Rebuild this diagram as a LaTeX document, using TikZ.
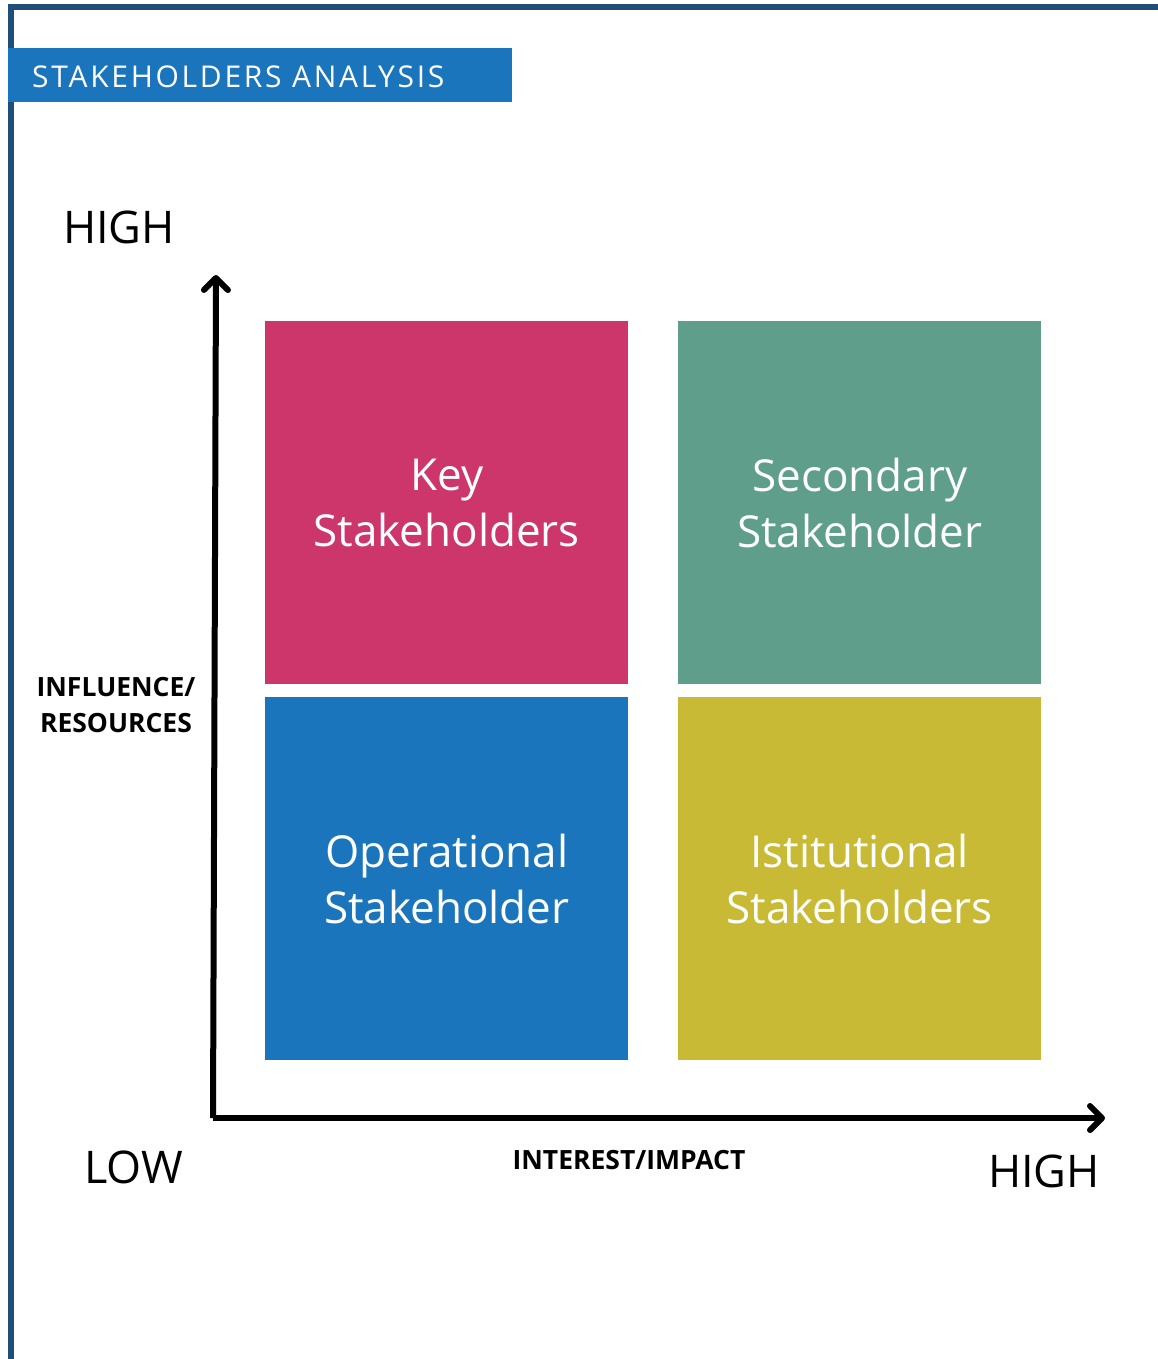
\documentclass[tikz,border=0pt]{standalone}
\usepackage{fontspec}
\setmainfont{Open Sans}
\newfontfamily\titlefont[LetterSpace=9]{Open Sans}
\usetikzlibrary{arrows.meta}
\definecolor{frame}{HTML}{1F4E79}
\definecolor{titleblue}{HTML}{1B75BC}
\definecolor{keyc}{HTML}{CC366B}
\definecolor{secc}{HTML}{5E9E8B}
\definecolor{opc}{HTML}{1B75BC}
\definecolor{insc}{HTML}{C9BA36}
\tikzset{
  quad/.style={inner sep=0pt, minimum width=363pt, minimum height=363pt, text=white, align=center,
    font=\fontsize{44}{56}\selectfont},
  axislabel/.style={font=\fontsize{45}{52}\selectfont, anchor=base west, inner sep=0pt},
  axisname/.style={font=\bfseries\fontsize{26.5}{36}\selectfont, align=center, inner sep=0pt},
  axisline/.style={line width=6pt, -{Straight Barb[round,length=12pt,width=24pt]}},
}
\begin{document}
\begin{tikzpicture}[x=1pt,y=-1pt]
\useasboundingbox (0,0) rectangle (1158,1359);
% frame
\fill[frame] (8,4) rectangle (1158,10);
\fill[frame] (8,4) rectangle (14,1359);
% title
\node[fill=titleblue, minimum width=504pt, minimum height=54pt, inner sep=0pt, anchor=north west] (title) at (8,48) {};
\node[anchor=base west, text=white, inner sep=0pt, font=\titlefont\fontsize{30}{32}\selectfont] (titletext) at (32,88) {STAKEHOLDERS ANALYSIS};
% quadrants
\node[quad, fill=keyc, anchor=north west] (key) at (265,321) {Key\\Stakeholders};
\node[quad, fill=secc, anchor=north west] (sec) at (678,321) {Secondary\\Stakeholder};
\node[quad, fill=opc, anchor=north west] (op) at (265,697) {Operational\\Stakeholder};
\node[quad, fill=insc, anchor=north west] (ins) at (678,697) {Istitutional\\Stakeholders};
% axes
\coordinate (origin) at (213,1118);
\coordinate (ytip) at (216,275);
\coordinate (xtip) at (1105,1118);
\draw[axisline] (origin) -- (ytip);
\draw[axisline] (origin) -- (xtip);
% labels
\node[axislabel] (hightop) at (63,243) {HIGH};
\node[axislabel] (low) at (84,1183) {LOW};
\node[axislabel] (highright) at (988,1187) {HIGH};
\node[axisname] (yname) at (116,705) {INFLUENCE/\\RESOURCES};
\node[axisname] (xname) at (629,1160) {INTEREST/IMPACT};
\end{tikzpicture}
\end{document}
